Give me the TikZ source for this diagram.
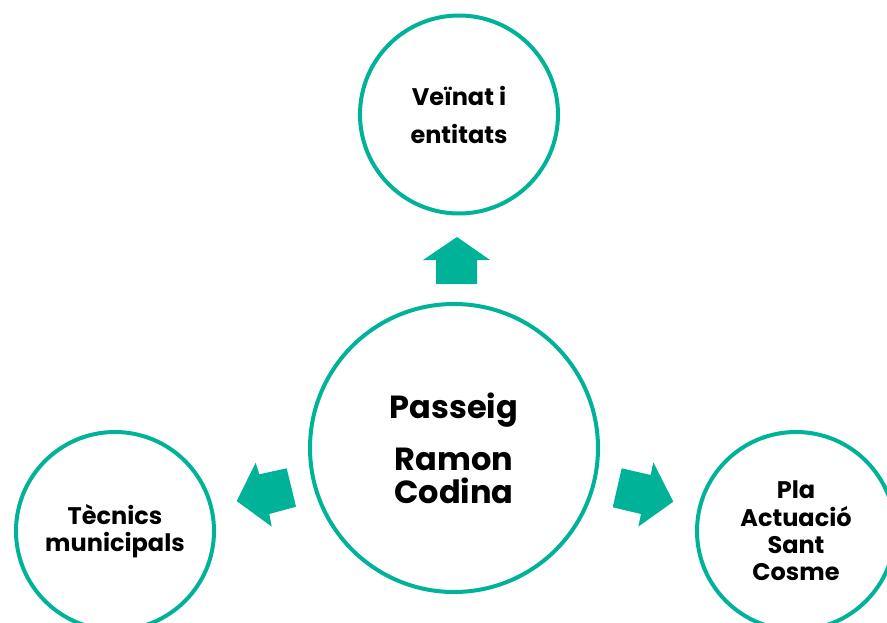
\documentclass[tikz,border=0pt]{standalone}
\usepackage{fontspec}
\setmainfont{Poppins}[BoldFont={* Bold}]
\definecolor{teal1}{RGB}{0,179,152}
\begin{document}
\begin{tikzpicture}[x=1pt,y=-1pt,
  ring/.style={circle,draw=teal1,line width=4pt,inner sep=0pt,align=center,font=\bfseries},
  blockarrow/.style={fill=teal1,draw=none}]
\useasboundingbox (0,0) rectangle (887,623);
\node[ring,minimum size=288pt,font=\bfseries\fontsize{32}{33}\selectfont] (main) at (454,448)
  {Passeig\\[19pt]Ramon\\Codina};
\node[ring,minimum size=198pt,font=\bfseries\fontsize{24}{38}\selectfont] (top) at (459,114.5)
  {Veïnat i\\entitats};
\node[ring,minimum size=198pt,font=\bfseries\fontsize{24}{27}\selectfont] (left) at (115,531)
  {Tècnics\\municipals};
\node[ring,minimum size=198pt,font=\bfseries\fontsize{24}{27.3}\selectfont] (right) at (796,531)
  {Pla\\Actuació\\Sant\\Cosme};
% up arrow
\fill[blockarrow] (457,237) -- (490,260) -- (477,260) -- (477,284) -- (436,284) -- (436,260) -- (423,260) -- cycle;
% left arrow
\fill[blockarrow] (236.7,501) -- (255.7,462.7) -- (259.3,474.3) -- (286.7,468.3) -- (296,506.7) -- (269.3,514) -- (271.7,526.7) -- cycle;
% right arrow
\fill[blockarrow] (673.3,501.7) -- (653.3,462.3) -- (650.7,475) -- (621.7,468.3) -- (612.7,507.3) -- (641,514) -- (638.3,526.7) -- cycle;
\end{tikzpicture}
\end{document}
